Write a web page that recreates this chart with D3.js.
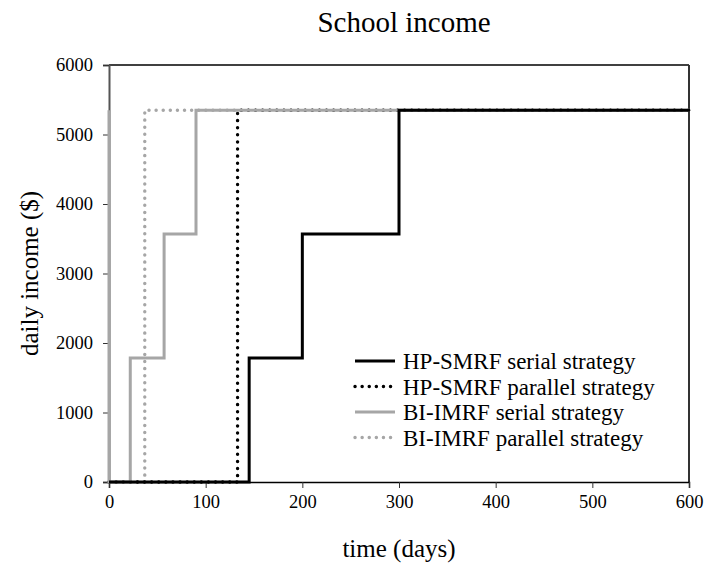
<!DOCTYPE html>
<html><head><meta charset="utf-8">
<script src="https://cdn.jsdelivr.net/npm/d3@7"></script>
<style>body{margin:0;background:#fff}svg{display:block}text{font-family:"Liberation Serif","Times New Roman",serif;fill:#000}</style>
</head><body>
<svg id="c" width="704" height="565"></svg>
<script>
const xTicks = [0,100,200,300,400,500,600];
const yTicks = [0,1000,2000,3000,4000,5000,6000];
const seriesNames = ["HP-SMRF serial strategy","HP-SMRF parallel strategy","BI-IMRF serial strategy","BI-IMRF parallel strategy"];
const hpSerialT = [0,145,145,200,200,300,300,600];
const hpSerialV = [0,0,1783,1783,3567,3567,5350,5350];
const hpParT = [0,133,133,600];
const hpParV = [0,0,5350,5350];
const biSerialT = [0,0,22,22,57,57,90,90,600];
const biSerialV = [5350,0,0,1783,1783,3567,3567,5350,5350];
const biParT = [0,37,37,600];
const biParV = [0,0,5350,5350];

const svg = d3.select("#c");
const L=109,R=689,T=65,B=482;
const x = d3.scaleLinear().domain([0,600]).range([L,R]);
const y = d3.scaleLinear().domain([0,6000]).range([B,T]);

svg.append("text").attr("x",404).attr("y",32).attr("text-anchor","middle").attr("font-size",29).text("School income");

// frame
svg.append("line").attr("x1",L).attr("x2",R).attr("y1",T).attr("y2",T).attr("stroke","#000").attr("stroke-width",1.5);
svg.append("line").attr("x1",R).attr("x2",R).attr("y1",T).attr("y2",B).attr("stroke","#333").attr("stroke-width",2);

const gx = svg.append("g").attr("transform",`translate(0,${B})`)
  .call(d3.axisBottom(x).tickValues(xTicks).tickSize(6).tickPadding(7).tickFormat(d3.format("d")));
gx.select(".domain").attr("stroke","#000").attr("stroke-width",1.5);
gx.selectAll(".tick line").attr("stroke","#333").attr("stroke-width",1);
gx.selectAll("text").attr("font-size",18.5).attr("font-family","Liberation Serif");

const gy = svg.append("g").attr("transform",`translate(${L},0)`)
  .call(d3.axisLeft(y).tickValues(yTicks).tickSize(6).tickPadding(10).tickFormat(d3.format("d")));
gy.select(".domain").attr("stroke","#555").attr("stroke-width",2);
gy.selectAll(".tick line").attr("stroke","#333");
gy.selectAll("text").attr("font-size",18.5).attr("font-family","Liberation Serif");

svg.append("text").attr("x",(L+R)/2).attr("y",557).attr("text-anchor","middle").attr("font-size",25).text("time (days)");
svg.append("text").attr("transform",`translate(38,${(T+B)/2}) rotate(-90)`).attr("text-anchor","middle").attr("font-size",25).text("daily income ($)");

const series = [
  {name:seriesNames[0],t:hpSerialT,v:hpSerialV,color:"#000",dash:null},
  {name:seriesNames[1],t:hpParT,v:hpParV,color:"#000",dash:"0.1,7"},
  {name:seriesNames[2],t:biSerialT,v:biSerialV,color:"#a6a6a6",dash:null},
  {name:seriesNames[3],t:biParT,v:biParV,color:"#a6a6a6",dash:"0.1,7"}
];
const line = d3.line().x(d=>x(d[0])).y(d=>y(d[1]));
const drawOrder=[3,1,2,0];
drawOrder.forEach(i=>{
  const s=series[i];
  const pts=s.t.map((t,j)=>[t,s.v[j]]);
  const p=svg.append("path").attr("d",line(pts)).attr("fill","none").attr("stroke",s.color).attr("stroke-width",s.dash?3.4:3);
  if(s.dash){p.attr("stroke-dasharray",s.dash).attr("stroke-linecap","round");}
});

const lg = svg.append("g");
series.forEach((s,i)=>{
  const yy = 361 + i*25.5;
  const l=lg.append("line").attr("x1",355).attr("x2",395).attr("y1",yy).attr("y2",yy).attr("stroke",s.color).attr("stroke-width",s.dash?3.4:3);
  if(s.dash){l.attr("stroke-dasharray",s.dash).attr("stroke-linecap","round");}
  lg.append("text").attr("x",403).attr("y",yy).attr("dy","0.35em").attr("font-size",23).text(s.name);
});
</script>
</body></html>
